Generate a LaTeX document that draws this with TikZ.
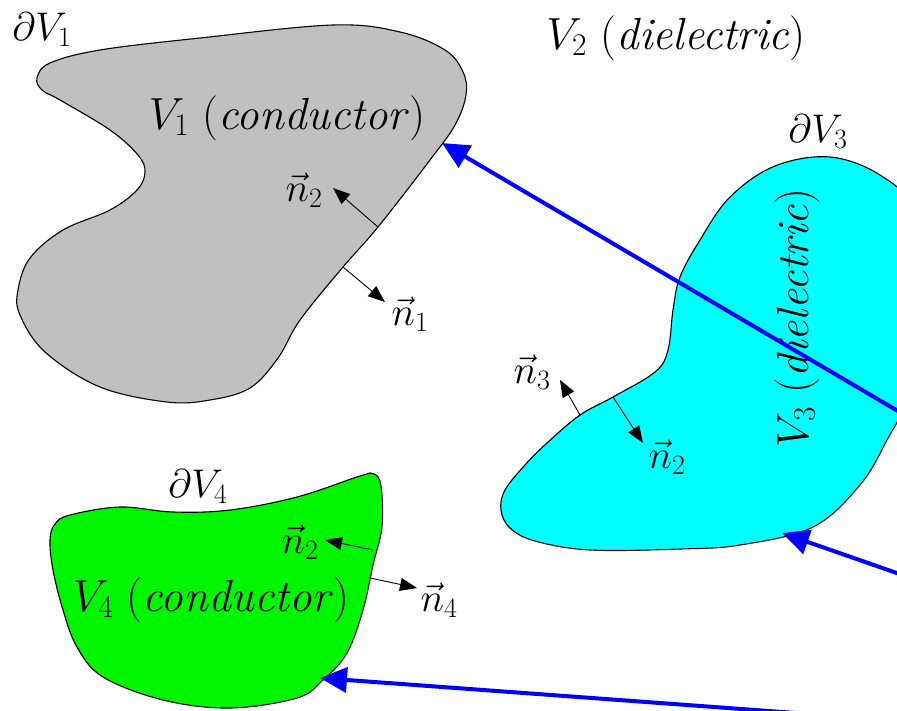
\RequirePackage{fix-cm}
\documentclass[tikz,border=0pt]{standalone}
\usepackage{tikz}
\usetikzlibrary{arrows.meta}
\newcommand{\vol}[1]{$V_{#1}$}
\newcommand{\bnd}[1]{$\partial V_{#1}$}
\newcommand{\nv}[1]{$\vec{n}_{#1}$}

\begin{document}
\begin{tikzpicture}[x=1pt,y=-1pt,every node/.style={font=\fontsize{40}{46}\selectfont,inner sep=0pt},
 big/.style={font=\fontsize{45}{52}\selectfont},
 region/.style={draw=black,line width=1.1pt},
 normal/.style={-{Triangle[length=17pt,width=13pt]},line width=0.9pt},
 ray/.style={draw=blue,line width=4pt,-{Triangle[length=27pt,width=25pt]}}]
\useasboundingbox (0,0) rectangle (897,710);
\clip (0,0) rectangle (897,710);
\draw[region,fill={rgb,255:red,192;green,192;blue,192}] plot[smooth cycle,tension=0.6] coordinates {(200,38) (333,25) (400,32) (445,50) (463,72) (466,95) (455,125) (430,160) (378,227) (343,267) (300,320) (278,358) (250,388) (210,400) (167,402) (100,387) (45,352) (20,315) (18,290) (30,258) (63,230) (110,210) (137,190) (145,172) (138,155) (110,130) (60,100) (42,90) (37,78) (50,63) (100,50)};
\draw[region,fill={rgb,255:red,0;green,255;blue,255}] plot[smooth cycle,tension=0.6] coordinates {(830,157) (880,175) (912,210) (925,300) (905,400) (887,440) (860,485) (813,527) (740,545) (680,549) (590,550) (535,541) (510,528) (501,510) (505,490) (525,465) (547,443) (580,415) (613,397) (655,372) (668,350) (673,310) (680,277) (700,240) (730,197) (775,166)};
\draw[region,fill={rgb,255:red,0;green,245;blue,0}] plot[smooth cycle,tension=0.6] coordinates {(70,515) (120,507) (173,512) (230,510) (297,497) (360,476) (374,474) (381,486) (382,527) (373,565) (363,610) (347,653) (323,680) (297,698) (230,708) (163,700) (103,677) (77,647) (63,610) (53,570) (50,540) (55,524)};
\node[big] (v1) at (287,118) {\vol{1} (\textit{conductor})};
\node[big] (v2) at (676,38) {\vol{2} (\textit{dielectric})};
\node[big,rotate=90] (v3) at (797,318) {\vol{3} (\textit{dielectric})};
\node[big] (v4) at (211,600) {\vol{4} (\textit{conductor})};
\node (d1) at (42,30) {\bnd{1}};
\node (d3) at (818,132) {\bnd{3}};
\node (d4) at (198,487) {\bnd{4}};
\coordinate (b12) at (378,227); \coordinate (t12) at (333,188);
\coordinate (b11) at (343,267); \coordinate (t11) at (385,302);
\coordinate (b33) at (580,415); \coordinate (t33) at (560,380);
\coordinate (b32) at (613,397); \coordinate (t32) at (643,443);
\coordinate (b42) at (373,550); \coordinate (t42) at (325,540);
\coordinate (b44) at (370,578); \coordinate (t44) at (417,588);
\draw[normal] (b12) -- (t12);
\draw[normal] (b11) -- (t11);
\draw[normal] (b33) -- (t33);
\draw[normal] (b32) -- (t32);
\draw[normal] (b42) -- (t42);
\draw[normal] (b44) -- (t44);
\node (n12) at (304,190) {\nv{2}};
\node (n11) at (410,314) {\nv{1}};
\node (n33) at (532,372) {\nv{3}};
\node (n32) at (667,457) {\nv{2}};
\node (n42) at (300,542) {\nv{2}};
\node (n44) at (439,600) {\nv{4}};
\coordinate (s1) at (1000,471); \coordinate (h1) at (442,143);
\coordinate (s2) at (1000,609); \coordinate (h2) at (782,533);
\coordinate (s3) at (1000,728); \coordinate (h3) at (320,678);
\draw[ray] (s1) -- (h1);
\draw[ray] (s2) -- (h2);
\draw[ray] (s3) -- (h3);
\end{tikzpicture}
\end{document}
